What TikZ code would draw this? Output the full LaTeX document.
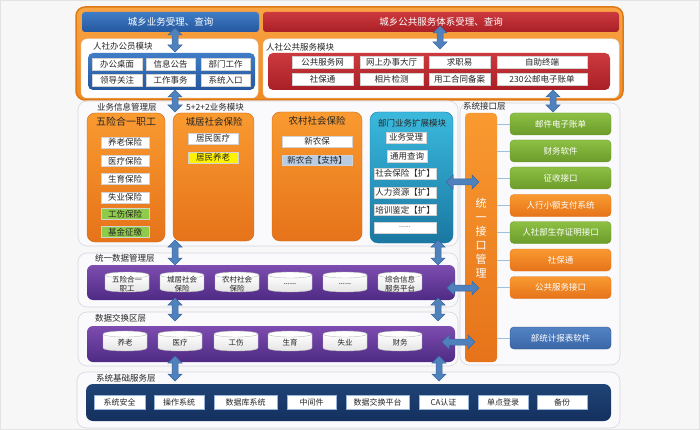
\documentclass[tikz,border=0pt]{standalone}
\usepackage{fontspec}
\setmainfont{Noto Sans CJK SC}
\newcommand\fsz[1]{\fontsize{#1}{#1}\selectfont}
\definecolor{bgc}{HTML}{F7F7F7}
\definecolor{frameT}{HTML}{F9A445}
\definecolor{frameB}{HTML}{EF8A22}
\definecolor{frameD}{HTML}{DE7A16}
\definecolor{blueT}{HTML}{3F7DC6}
\definecolor{blueB}{HTML}{25579E}
\definecolor{redT}{HTML}{CC3A3F}
\definecolor{redB}{HTML}{A91F26}
\definecolor{orT}{HTML}{F99A30}
\definecolor{orB}{HTML}{E6731A}
\definecolor{tealT}{HTML}{3BB9DD}
\definecolor{tealB}{HTML}{1A78A2}
\definecolor{grT}{HTML}{8DC043}
\definecolor{grB}{HTML}{6C9B2B}
\definecolor{ibT}{HTML}{5383C3}
\definecolor{ibB}{HTML}{3A66A6}
\definecolor{puT}{HTML}{7D4DB0}
\definecolor{puB}{HTML}{4E2A84}
\definecolor{navyT}{HTML}{1F4476}
\definecolor{navyB}{HTML}{14305E}
\definecolor{arrF}{HTML}{4F81BD}
\definecolor{arrD}{HTML}{3C68A0}
\definecolor{pnl}{HTML}{FAFAFC}
\definecolor{pnlD}{HTML}{D5D5E0}
\definecolor{lgreen}{HTML}{8FCB4A}
\definecolor{lblue}{HTML}{B8CCE4}
\definecolor{txt}{HTML}{262626}
\definecolor{link}{HTML}{9DBFE0}
\newcommand\vdarr[3]{\path[blockarrow] (#1-3,#2+7) -- (#1-7,#2+7) -- (#1,#2) -- (#1+7,#2+7) -- (#1+3,#2+7) -- (#1+3,#3-7) -- (#1+7,#3-7) -- (#1,#3) -- (#1-7,#3-7) -- (#1-3,#3-7) -- cycle;}
\newcommand\hdarr[3]{\path[blockarrow] (#2+7,#1-3) -- (#2+7,#1-7) -- (#2,#1) -- (#2+7,#1+7) -- (#2+7,#1+3) -- (#3-7,#1+3) -- (#3-7,#1+7) -- (#3,#1) -- (#3-7,#1-7) -- (#3-7,#1-3) -- cycle;}
\newcommand\cyl[4]{%
  \path[cylbody] (#2-22,#3+3) -- (#2-22,#3+17) .. controls (#2-22,#3+21) and (#2+22,#3+21) .. (#2+22,#3+17) -- (#2+22,#3+3) -- cycle;
  \draw[cyledge, fill=white] (#2,#3+3) ellipse [x radius=22, y radius=3];
  \node[cyltext] (#1) at (#2,#3+12) {#4};}
\begin{document}
\begin{tikzpicture}[x=1pt,y=-1pt,
  blockarrow/.style={fill=arrF, draw=arrD, line width=0.5pt},
  cylbody/.style={top color=white, bottom color=gray!22, draw=gray!55, line width=0.4pt},
  cyledge/.style={draw=gray!55, line width=0.4pt},
  cyltext/.style={font=\fontsize{7.5}{8.5}\selectfont, text=txt, align=center, inner sep=0pt},
  panel/.style={fill=pnl, draw=pnlD, line width=0.6pt, rounded corners=9pt},
  wpanel/.style={fill=white, draw=gray!20, line width=0.5pt, rounded corners=6pt},
  lbl/.style={font=\fsz{8.5}, text=txt, inner sep=0pt, anchor=west},
  wbox/.style={draw=gray!35, fill=white, inner sep=0pt, font=\fsz{8.5}, text=txt},
  nbox/.style={draw=ibT!60, fill=white, inner sep=0pt, font=\fsz{8}, text=txt, minimum height=14},
  rbox/.style={rounded corners=4pt, inner sep=0pt, font=\fsz{8.5}, text=white, minimum width=101, minimum height=22},
  gbox/.style={rbox, top color=grT, bottom color=grB, draw=grB},
  obox/.style={rbox, top color=orT, bottom color=orB, draw=orB},
  bbox/.style={rbox, top color=ibT, bottom color=ibB, draw=ibB!80!black},
  opanel/.style={top color=orT, bottom color=orB, draw=orB!90!black, line width=0.4pt, rounded corners=8pt},
  ptitle/.style={font=\fsz{9.5}, text=txt, inner sep=0pt}
]
\useasboundingbox (0,0) rectangle (700,430);
\fill[bgc] (0,0) rectangle (700,430);
\draw[gray!22] (0.5,0.5) rectangle (699.5,429.5);

% ---------- top frame ----------
\path[top color=frameT, bottom color=frameB, draw=frameD, line width=1.5pt, rounded corners=9pt] (76,7) rectangle (623,100);
\path[top color=blueT, bottom color=blueB, rounded corners=3pt] (82,12) rectangle (259,32);
\node[font=\fsz{9.5}, text=white, inner sep=0pt] (t1) at (170.5,22) {城乡业务受理、查询};
\path[top color=redT, bottom color=redB, rounded corners=3pt] (263,12) rectangle (619,32);
\node[font=\fsz{9.5}, text=white, inner sep=0pt] (t2) at (441,22) {城乡公共服务体系受理、查询};

\path[wpanel] (81,39) rectangle (258,98);
\node[lbl] (l1) at (93,46) {人社办公员模块};
\path[top color=blueT, bottom color=blueB, rounded corners=5pt] (88,53) rectangle (255,90);
\node[wbox, minimum width=50, minimum height=12] (a1) at (117,64) {办公桌面};
\node[wbox, minimum width=49, minimum height=12] (a2) at (170.5,64) {信息公告};
\node[wbox, minimum width=49, minimum height=12] (a3) at (225.5,64) {部门工作};
\node[wbox, minimum width=50, minimum height=12] (a4) at (117,80) {领导关注};
\node[wbox, minimum width=49, minimum height=12] (a5) at (170.5,80) {工作事务};
\node[wbox, minimum width=49, minimum height=12] (a6) at (225.5,80) {系统入口};

\path[wpanel] (263,39) rectangle (619,98);
\node[lbl] (l2) at (266,47) {人社公共服务模块};
\path[top color=redT, bottom color=redB, rounded corners=5pt] (268,53) rectangle (610,90);
\node[wbox, minimum width=61, minimum height=12] (p1) at (322.5,62.5) {公共服务网};
\node[wbox, minimum width=63, minimum height=12] (p2) at (391.5,62.5) {网上办事大厅};
\node[wbox, minimum width=61, minimum height=12] (p3) at (459.5,62.5) {求职易};
\node[wbox, minimum width=90, minimum height=12] (p4) at (542,62.5) {自助终端};
\node[wbox, minimum width=61, minimum height=12] (p5) at (322.5,79) {社保通};
\node[wbox, minimum width=63, minimum height=12] (p6) at (391.5,79) {相片检测};
\node[wbox, minimum width=61, minimum height=12] (p7) at (459.5,79) {用工合同备案};
\node[wbox, minimum width=90, minimum height=12] (p8) at (542,79) {230公邮电子账单};

% ---------- business layer ----------
\path[panel] (78,101) rectangle (458,246);
\node[lbl] (l3) at (97,107) {业务信息管理层};
\node[lbl] (l4) at (186,107) {5+2+2业务模块};

\path[opanel] (87,113) rectangle (165,242);
\node[ptitle, font=\fsz{10}] (o1t) at (126,122) {五险合一职工};
\node[wbox, minimum width=48, minimum height=11] (o11) at (125,142.5) {养老保险};
\node[wbox, minimum width=48, minimum height=11] (o12) at (125,161) {医疗保险};
\node[wbox, minimum width=48, minimum height=11] (o13) at (125,179) {生育保险};
\node[wbox, minimum width=48, minimum height=11] (o14) at (125,197.5) {失业保险};
\node[wbox, fill=lgreen, minimum width=48, minimum height=11] (o15) at (125,214) {工伤保险};
\node[wbox, fill=lgreen, minimum width=48, minimum height=11] (o16) at (125,232) {基金征缴};

\path[opanel] (173,113) rectangle (254,241);
\node[ptitle] (o2t) at (214,122) {城居社会保险};
\node[wbox, minimum width=50, minimum height=11] (o21) at (213,138.5) {居民医疗};
\node[wbox, fill=yellow, minimum width=50, minimum height=11] (o22) at (213,157.5) {居民养老};

\path[opanel] (272,112) rectangle (362,241);
\node[ptitle] (o3t) at (317,121) {农村社会保险};
\node[wbox, minimum width=70, minimum height=11] (o31) at (317,141.5) {新农保};
\node[wbox, fill=lblue, minimum width=70, minimum height=10] (o32) at (317,160) {新农合【支持】};

\path[top color=tealT, bottom color=tealB, draw=tealB, line width=0.4pt, rounded corners=8pt] (370,112) rectangle (453,243);
\node[ptitle, font=\fsz{8.5}] (t4t) at (412,123) {部门业务扩展模块};
\node[wbox, minimum width=40, minimum height=11] (t41) at (406,137.5) {业务受理};
\node[wbox, minimum width=40, minimum height=12] (t42) at (407,156) {通用查询};
\node[wbox, minimum width=62, minimum height=11] (t43) at (405,173.5) {社会保险【扩】};
\node[wbox, minimum width=62, minimum height=11] (t44) at (405,192.5) {人力资源【扩】};
\node[wbox, minimum width=62, minimum height=11] (t45) at (405,210) {培训鉴定【扩】};
\node[wbox, minimum width=62, minimum height=11, font=\fsz{7}] (t46) at (405,227.5) {......};

% ---------- interface layer ----------
\path[panel] (460,103) rectangle (620,365);
\node[lbl] (l5) at (463,106) {系统接口层};
\path[top color=orT, bottom color=orB, rounded corners=4pt] (465,113) rectangle (497,362);
\node[font=\fontsize{11}{14}\selectfont, text=white, align=center, inner sep=0pt] (ifbar) at (481,238) {统\\一\\接\\口\\管\\理};
\coordinate (barE) at (497,238);
\node[gbox] (r1) at (560.5,124) {邮件电子账单};
\node[gbox] (r2) at (560.5,151) {财务软件};
\node[gbox] (r3) at (560.5,178) {征收接口};
\node[obox] (r4) at (560.5,205.5) {人行小额支付系统};
\node[gbox] (r5) at (560.5,232.5) {人社部生存证明接口};
\node[obox] (r6) at (560.5,260) {社保通};
\node[obox] (r7) at (560.5,287.5) {公共服务接口};
\node[bbox] (r8) at (560.5,338) {部统计报表软件};
\foreach \r in {r1,r2,r3,r4,r5,r6,r7,r8}
  \draw[link, line width=0.6pt] (barE |- \r.west) -- (\r.west);

% ---------- data layer ----------
\path[panel] (78,253) rectangle (458,307);
\node[lbl] (l6) at (95,258) {统一数据管理层};
\path[top color=puT, bottom color=puB, rounded corners=6pt] (87,265) rectangle (455,300);
\cyl{d1}{127}{272}{五险合一\\职工}
\cyl{d2}{182}{272}{城居社会\\保险}
\cyl{d3}{237}{272}{农村社会\\保险}
\cyl{d4}{290}{272}{......}
\cyl{d5}{345}{272}{......}
\cyl{d6}{400}{272}{综合信息\\服务平台}

% ---------- exchange layer ----------
\path[panel] (78,312) rectangle (458,366);
\node[lbl] (l7) at (95,318) {数据交换区层};
\path[top color=puT, bottom color=puB, rounded corners=6pt] (87,326) rectangle (455,362);
\cyl{e1}{125}{331}{养老}
\cyl{e2}{180}{331}{医疗}
\cyl{e3}{236}{331}{工伤}
\cyl{e4}{290}{331}{生育}
\cyl{e5}{345}{331}{失业}
\cyl{e6}{400}{331}{财务}

% ---------- base layer ----------
\path[panel] (77,372) rectangle (620,428);
\node[lbl] (l8) at (96,378) {系统基础服务层};
\path[top color=navyT, bottom color=navyB, rounded corners=7pt] (86,384) rectangle (611,421);
\node[nbox, minimum width=51] (b1) at (119.5,402) {系统安全};
\node[nbox, minimum width=50] (b2) at (179,402) {操作系统};
\node[nbox, minimum width=63] (b3) at (245.5,402) {数据库系统};
\node[nbox, minimum width=49] (b4) at (311.5,402) {中间件};
\node[nbox, minimum width=63] (b5) at (377.5,402) {数据交换平台};
\node[nbox, minimum width=49] (b6) at (443.5,402) {CA认证};
\node[nbox, minimum width=50] (b7) at (503,402) {单点登录};
\node[nbox, minimum width=50] (b8) at (562,402) {备份};

% ---------- block arrows ----------
\vdarr{175}{28}{52}
\vdarr{440}{26}{49}
\vdarr{175}{90}{112}
\vdarr{553}{90}{112}
\vdarr{175}{240}{265}
\vdarr{438}{240}{265}
\vdarr{175}{298}{321}
\vdarr{438}{298}{321}
\vdarr{175}{356}{381}
\vdarr{439}{356}{381}
\hdarr{182}{446}{479}
\hdarr{288}{447}{479}
\hdarr{342}{442}{475}
\end{tikzpicture}
\end{document}
